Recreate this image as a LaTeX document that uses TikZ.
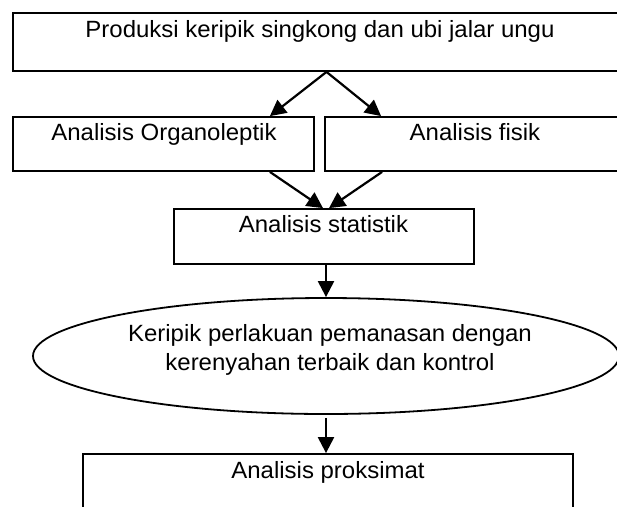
\documentclass[tikz,border=0pt]{standalone}
\usepackage{fontspec}
\setmainfont{Liberation Sans}[FakeStretch=1.02]
\usetikzlibrary{arrows.meta,shapes.geometric,calc}
\tikzset{
  box/.style={draw=black, line width=1.8pt, rectangle, inner sep=0pt, fill=none},
  oval/.style={draw=black, line width=1.8pt, ellipse, inner sep=0pt},
  txt/.style={anchor=base, inner sep=0pt, font=\fontsize{23.5}{28}\selectfont},
  arr/.style={draw=black, line width=2.2pt, -{Triangle[length=16pt,width=16pt]}}
}
\begin{document}
\begin{tikzpicture}[x=1pt,y=-1pt]
\useasboundingbox (0,0) rectangle (617,506);
\clip (0,0) rectangle (617,506);
\fill[white] (0,0) rectangle (617,506);
% boxes
\node[box, minimum width=627pt, minimum height=58pt] (top) at (326.5,42) {};
\node[box, minimum width=301pt, minimum height=54pt] (orga) at (163.5,144) {};
\node[box, minimum width=300pt, minimum height=54pt] (fisik) at (475,144) {};
\node[box, minimum width=300pt, minimum height=55pt] (stat) at (324,236.5) {};
\node[oval, minimum width=586pt, minimum height=116pt] (ell) at (326,356) {};
\node[box, minimum width=490pt, minimum height=76pt] (prok) at (328,492) {};
% texts
\node[txt] (ttop) at (320,37) {Produksi keripik singkong dan ubi jalar ungu};
\node[txt] (torga) at (164,140) {Analisis Organoleptik};
\node[txt] (tfisik) at (475,140) {Analisis fisik};
\node[txt] (tstat) at (323.5,232) {Analisis statistik};
\node[txt] (tell1) at (330,341) {Keripik perlakuan pemanasan dengan};
\node[txt] (tell2) at (330,370) {kerenyahan terbaik dan kontrol};
\node[txt] (tprok) at (328,478) {Analisis proksimat};
% connectors
\draw[arr] (top.south) -- ([xshift=-45pt]orga.north east);
\draw[arr] (top.south) -- ([xshift=57pt]fisik.north west);
\draw[arr] ([xshift=-45pt]orga.south east) -- ([xshift=-1pt]stat.north);
\draw[arr] ([xshift=58pt]fisik.south west) -- ([xshift=5pt]stat.north);
\draw[arr] ([xshift=2pt]stat.south) -- (ell.north);
\draw[arr, shorten <=3pt] (ell.south) -- (ell.south |- prok.north);
\end{tikzpicture}
\end{document}
